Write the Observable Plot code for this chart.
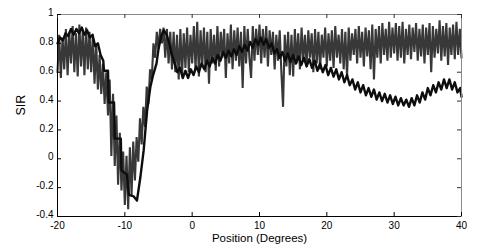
<!DOCTYPE html>
<html>
<head>
<meta charset="utf-8">
<script src="https://cdn.jsdelivr.net/npm/d3@7"></script>
<script src="https://cdn.jsdelivr.net/npm/@observablehq/plot@0.6"></script>
<style>
  html, body { margin: 0; padding: 0; background: #fff; }
</style>
</head>
<body>
<div id="chart"></div>
<script>
// ---- data ----
const xTicks = [-20, -10, 0, 10, 20, 30, 40];
const yTicks = [-0.4, -0.2, 0, 0.2, 0.4, 0.6, 0.8, 1];
const xLabel = "Position (Degrees)";
const yLabel = "SIR";

// noisy grey series, one sample every 0.25 degree starting at -20
const grayStart = -20;
const grayStep = 0.25;
const grayY = [
  0.60,0.86,0.56,0.84,  // -20
  0.62,0.90,0.58,0.88,  // -19
  0.66,0.92,0.60,0.87,  // -18
  0.57,0.93,0.64,0.89,  // -17
  0.58,0.91,0.62,0.88,  // -16
  0.60,0.86,0.52,0.80,  // -15
  0.48,0.72,0.45,0.66,  // -14
  0.38,0.60,0.30,0.55,  // -13
  0.02,0.45,-0.05,0.30, // -12
  -0.18,0.18,-0.22,0.05,// -11
  -0.32,0.02,-0.35,0.08,// -10
  -0.25,0.12,-0.15,0.15,// -9
  -0.02,0.28,0.10,0.36, // -8
  0.22,0.50,0.38,0.62,  // -7
  0.55,0.80,0.70,0.88,  // -6
  0.76,0.90,0.80,0.91,  // -5
  0.70,0.90,0.66,0.88,  // -4
  0.62,0.88,0.60,0.86,  // -3
  0.55,0.90,0.58,0.87,  // -2
  0.63,0.91,0.60,0.86,  // -1
  0.66,0.92,0.62,0.95,  // 0
  0.57,0.89,0.64,0.91,  // 1
  0.60,0.88,0.52,0.90,  // 2
  0.66,0.86,0.61,0.92,  // 3
  0.64,0.88,0.70,0.90,  // 4
  0.56,0.87,0.66,0.93,  // 5
  0.62,0.89,0.68,0.91,  // 6
  0.64,0.88,0.49,0.92,  // 7
  0.66,0.90,0.70,0.56,  // 8
  0.92,0.68,0.90,0.72,  // 9
  0.93,0.66,0.90,0.70,  // 10
  0.92,0.64,0.89,0.72,  // 11
  0.88,0.62,0.86,0.68,  // 12
  0.89,0.60,0.36,0.86,  // 13
  0.64,0.88,0.58,0.86,  // 14
  0.57,0.90,0.66,0.87,  // 15
  0.62,0.91,0.68,0.86,  // 16
  0.64,0.89,0.70,0.87,  // 17
  0.60,0.90,0.66,0.88,  // 18
  0.62,0.86,0.70,0.91,  // 19
  0.64,0.87,0.68,0.89,  // 20
  0.63,0.92,0.70,0.86,  // 21
  0.66,0.90,0.62,0.88,  // 22
  0.57,0.91,0.68,0.87,  // 23
  0.72,0.90,0.66,0.92,  // 24
  0.70,0.88,0.64,0.91,  // 25
  0.71,0.89,0.62,0.93,  // 26
  0.55,0.90,0.70,0.92,  // 27
  0.66,0.94,0.72,0.90,  // 28
  0.68,0.95,0.70,0.91,  // 29
  0.73,0.94,0.68,0.92,  // 30
  0.70,0.95,0.66,0.90,  // 31
  0.72,0.93,0.69,0.91,  // 32
  0.74,0.94,0.68,0.90,  // 33
  0.71,0.93,0.66,0.91,  // 34
  0.72,0.94,0.60,0.92,  // 35
  0.70,0.90,0.73,0.96,  // 36
  0.68,0.92,0.71,0.94,  // 37
  0.65,0.91,0.72,0.93,  // 38
  0.69,0.95,0.72,0.90,  // 39
  0.70                  // 40
];

// black series
const blackX = [
  -20,-19.6,-19.2,-18.8,-18.4,-18,-17.6,-17.2,-16.8,-16.4,
  -16,-15.6,-15.2,-14.8,-14.4,-14,-13.6,-13.2,-13.1,-12.5,
  -12.4,-11.6,-11.5,-10.6,-10.5,-9.7,-9.4,-8.7,-8.2,-7.7,
  -7.2,-6.7,-6.2,-5.8,-5.3,-5.0,-4.6,-4.2,-3.8,-3.4,
  -3.0,-2.6,
  -2.2,-1.8,-1.4,-1.0,-0.6,-0.2,0.2,0.6,1.0,1.4,
  1.8,2.2,2.6,3.0,3.4,3.8,4.2,4.6,5.0,5.4,
  5.8,6.2,6.6,7.0,7.4,7.8,8.2,8.6,9.0,9.4,
  9.8,10.2,10.6,11.0,11.4,11.8,12.2,12.6,13.0,13.4,
  13.8,14.2,14.6,15.0,15.4,15.8,16.2,16.6,17.0,17.4,
  17.8,18.2,18.6,19.0,19.4,19.8,20.2,20.6,21.0,21.4,
  21.8,22.2,22.6,23.0,23.4,23.8,24.2,24.6,25.0,25.4,
  25.8,26.2,26.6,27.0,27.4,27.8,28.2,28.6,29.0,29.4,
  29.8,30.2,30.6,31.0,31.4,31.8,32.2,32.6,33.0,33.4,
  33.8,34.2,34.6,35.0,35.4,35.8,36.2,36.6,37.0,37.4,
  37.8,38.2,38.6,39.0,39.4,39.8,40
];
const blackY = [
  0.80,0.84,0.82,0.87,0.85,0.90,0.86,0.90,0.87,0.91,
  0.86,0.89,0.84,0.86,0.78,0.80,0.72,0.68,0.61,0.61,
  0.39,0.39,0.14,0.14,-0.08,-0.11,-0.25,-0.26,-0.29,-0.13,
  0.06,0.33,0.50,0.58,0.66,0.76,0.85,0.89,0.86,0.80,
  0.72,0.66,
  0.60,0.63,0.56,0.61,0.56,0.62,0.58,0.64,0.60,0.66,
  0.62,0.68,0.64,0.70,0.66,0.72,0.68,0.74,0.70,0.75,
  0.71,0.76,0.72,0.78,0.74,0.79,0.75,0.81,0.77,0.83,
  0.79,0.84,0.79,0.83,0.77,0.80,0.73,0.76,0.70,0.74,
  0.68,0.73,0.67,0.72,0.66,0.71,0.65,0.70,0.64,0.69,
  0.63,0.68,0.61,0.66,0.60,0.65,0.58,0.63,0.57,0.62,
  0.55,0.60,0.53,0.58,0.51,0.55,0.48,0.53,0.46,0.51,
  0.44,0.49,0.43,0.48,0.41,0.46,0.40,0.45,0.39,0.44,
  0.38,0.43,0.37,0.42,0.37,0.41,0.36,0.42,0.37,0.44,
  0.39,0.46,0.41,0.49,0.44,0.51,0.46,0.53,0.48,0.55,
  0.49,0.55,0.48,0.53,0.46,0.49,0.43
];

// ---- build ----
const gray = grayY.map((v, i) => ({x: grayStart + i * grayStep, y: v}));
const n = Math.min(blackX.length, blackY.length);
const black = blackX.slice(0, n).map((x, i) => ({x, y: blackY[i]}));

const W = 478, H = 250, mL = 57, mR = 17, mT = 14, mB = 34;
const frameW = W - mL - mR, frameH = H - mT - mB, tickLen = 4;

const chart = Plot.plot({
  width: W,
  height: H,
  marginLeft: mL,
  marginRight: mR,
  marginTop: mT,
  marginBottom: mB,
  style: {fontFamily: "'Liberation Sans', Arial, sans-serif", fontSize: "10px", background: "#fff", color: "#000"},
  x: {domain: [-20, 40]},
  y: {domain: [-0.4, 1]},
  marks: [
    Plot.line(gray, {x: "x", y: "y", stroke: "#383838", strokeWidth: 2.1, strokeLinejoin: "miter"}),
    Plot.line(black, {x: "x", y: "y", stroke: "#0d0d0d", strokeWidth: 2.4}),
    Plot.frame({stroke: "#8a8a8a"}),
    Plot.ruleX([-20], {stroke: "#000"}),
    Plot.ruleY([-0.4], {stroke: "#000"}),
    // inward ticks on all four sides
    Plot.tickX(xTicks, {x: d => d, insetTop: frameH - tickLen, stroke: "#000"}),
    Plot.tickX(xTicks, {x: d => d, insetBottom: frameH - tickLen, stroke: "#333"}),
    Plot.tickY(yTicks, {y: d => d, insetRight: frameW - tickLen, stroke: "#000"}),
    Plot.tickY(yTicks, {y: d => d, insetLeft: frameW - tickLen, stroke: "#333"}),
    Plot.axisX({ticks: xTicks, tickSize: 0, tickPadding: 5, tickFormat: d => String(d), label: null}),
    Plot.axisY({ticks: yTicks, tickSize: 0, tickPadding: 4, dy: -1.5, tickFormat: d => String(d), label: null}),
    Plot.text([xLabel], {frameAnchor: "bottom", dy: 17, lineAnchor: "top", fontSize: 11.5}),
    Plot.text([yLabel], {frameAnchor: "left", dx: -37, rotate: -90, fontSize: 12.5})
  ]
});
document.getElementById("chart").appendChild(chart);
</script>
</body>
</html>
